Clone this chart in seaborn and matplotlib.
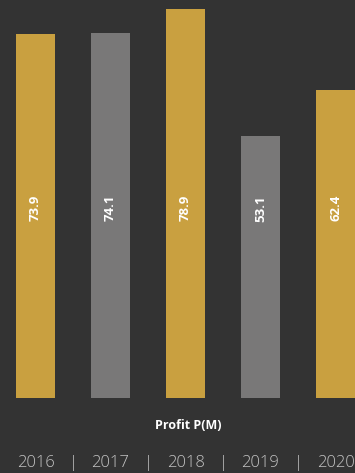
import matplotlib
matplotlib.use("Agg")
import matplotlib.pyplot as plt
import seaborn as sns
import pandas as pd

years = ["2016", "2017", "2018", "2019", "2020"]
profit = [73.9, 74.1, 78.9, 53.1, 62.4]
bar_colors = ["#C9A040", "#797878", "#C9A040", "#797878", "#C9A040"]
axis_title = "Profit P(M)"

BG = "#333333"
sns.set_theme(style="dark")
plt.rcParams["font.family"] = ["Open Sans", "DejaVu Sans"]

df = pd.DataFrame({"year": years, "profit": profit})

fig = plt.figure(figsize=(3.55, 4.73), dpi=100, facecolor=BG)
ax = fig.add_axes([0, 75 / 473, 1, 398 / 473])
ax.set_facecolor(BG)

sns.barplot(data=df, x="year", y="profit", hue="year", palette=bar_colors,
            width=0.52, saturation=1, legend=False, ax=ax, edgecolor="none")

ax.set_xlim(-35.5 / 75, -35.5 / 75 + 355 / 75)
ax.set_ylim(0, 398 / 4.93)

for i, v in enumerate(profit):
    ax.text(i, 38.5, f"{v:.1f}", rotation=90, ha="center", va="center",
            color="white", fontsize=9.5, fontweight="bold")

ax.set_yticks([])
ax.set_ylabel("")
ax.set_xlabel("")
ax.set_xticks(range(len(years)))
ax.set_xticklabels(years)
ax.set_xticks([i + 0.5 for i in range(len(years) - 1)], minor=True)
ax.set_xticklabels(["|"] * (len(years) - 1), minor=True)
ax.tick_params(axis="x", which="both", length=0, pad=41, labelsize=12,
               labelcolor="#C4C4C4")
for lbl in ax.get_xticklabels() + ax.get_xticklabels(minor=True):
    lbl.set_fontweight("light")
for s in ax.spines.values():
    s.set_visible(False)

fig.text(188 / 355, 1 - 425 / 473, axis_title, ha="center", va="center",
         color="white", fontsize=9, fontweight="bold")

fig.savefig("out.png", dpi=100, facecolor=BG)
